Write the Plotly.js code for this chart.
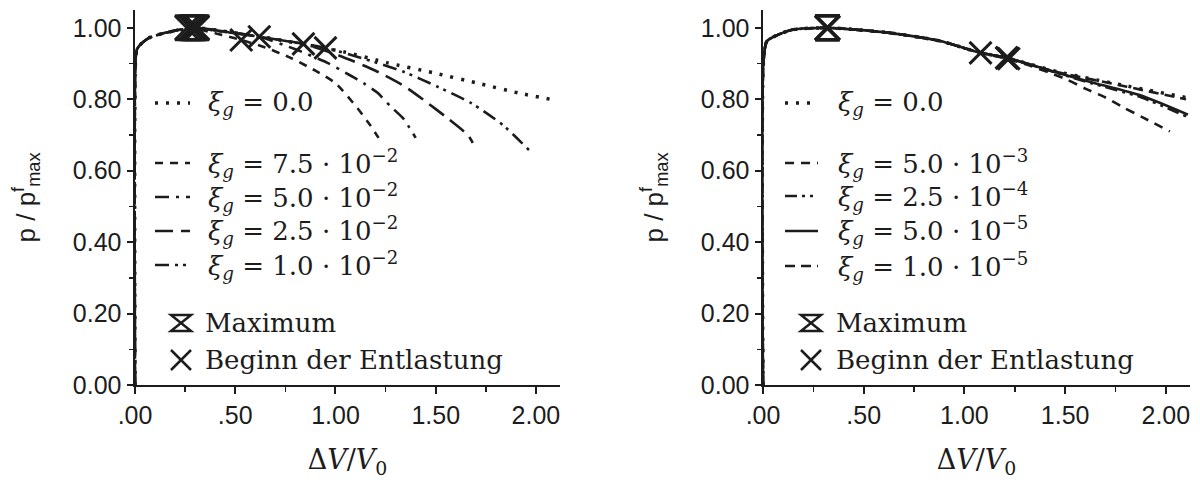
<!DOCTYPE html>
<html><head><meta charset="utf-8">
<script src="https://cdn.plot.ly/plotly-3.0.1.min.js"></script>
<style>html,body{margin:0;padding:0;background:#fff}#chart{width:1200px;height:486px}</style>
</head><body><div id="chart"></div>
<script>
// ---------------- DATA ----------------
// Left panel: xi_g = 0.0, 7.5e-2, 5.0e-2, 2.5e-2, 1.0e-2
const L_x_00 = [0, 0.002, 0.01, 0.03, 0.07, 0.15, 0.31, 0.45, 0.6, 0.8, 1.04, 1.26, 1.49, 1.725, 1.91, 2.09];
const L_y_00 = [0, 0.90, 0.94, 0.955, 0.972, 0.986, 1.0, 0.99, 0.978, 0.958, 0.933, 0.902, 0.874, 0.843, 0.818, 0.798];
const L_x_75 = [0, 0.002, 0.01, 0.03, 0.07, 0.15, 0.26, 0.4, 0.53, 0.65, 0.78, 0.9, 1.0, 1.11, 1.17, 1.215];
const L_y_75 = [0, 0.90, 0.94, 0.955, 0.972, 0.986, 1.0, 0.985, 0.966, 0.945, 0.915, 0.88, 0.845, 0.775, 0.73, 0.692];
const L_x_50 = [0, 0.002, 0.01, 0.03, 0.07, 0.15, 0.28, 0.45, 0.62, 0.8, 0.96, 1.07, 1.14, 1.21, 1.275, 1.34, 1.40];
const L_y_50 = [0, 0.90, 0.94, 0.955, 0.972, 0.986, 1.0, 0.988, 0.975, 0.94, 0.902, 0.868, 0.845, 0.818, 0.78, 0.745, 0.692];
const L_x_25 = [0, 0.002, 0.01, 0.03, 0.07, 0.15, 0.29, 0.5, 0.7, 0.84, 1.02, 1.2, 1.34, 1.44, 1.55, 1.66, 1.685];
const L_y_25 = [0, 0.90, 0.94, 0.955, 0.972, 0.986, 1.0, 0.985, 0.968, 0.955, 0.922, 0.88, 0.838, 0.798, 0.751, 0.70, 0.678];
const L_x_10 = [0, 0.002, 0.01, 0.03, 0.07, 0.15, 0.30, 0.5, 0.7, 0.95, 1.15, 1.34, 1.51, 1.675, 1.835, 1.965];
const L_y_10 = [0, 0.90, 0.94, 0.955, 0.972, 0.986, 1.0, 0.986, 0.968, 0.944, 0.912, 0.877, 0.835, 0.79, 0.728, 0.658];
const L_max_x = [0.31, 0.26, 0.28, 0.29, 0.30];
const L_max_y = [1.0, 1.0, 1.0, 1.0, 1.0];
const L_beg_x = [0.53, 0.62, 0.84, 0.95];
const L_beg_y = [0.966, 0.975, 0.955, 0.944];

// Right panel: xi_g = 0.0, 5.0e-3, 2.5e-4, 5.0e-5, 1.0e-5
const R_x_00  = [0, 0.002, 0.02, 0.14, 0.32, 0.63, 0.88, 1.08, 1.21, 1.47, 1.80, 2.10];
const R_y_00  = [0, 0.90, 0.963, 0.994, 1.0, 0.986, 0.963, 0.93, 0.916, 0.876, 0.838, 0.805];
const R_x_5e3 = [0, 0.002, 0.02, 0.14, 0.32, 0.63, 0.88, 1.08, 1.21, 1.32, 1.42, 1.51, 1.60, 1.70, 1.79, 1.89, 2.02];
const R_y_5e3 = [0, 0.90, 0.963, 0.994, 1.0, 0.986, 0.963, 0.93, 0.914, 0.895, 0.875, 0.855, 0.83, 0.805, 0.777, 0.748, 0.71];
const R_x_25e4 = [0, 0.002, 0.02, 0.14, 0.32, 0.63, 0.88, 1.08, 1.21, 1.47, 1.63, 1.88, 2.11];
const R_y_25e4 = [0, 0.90, 0.963, 0.994, 1.0, 0.986, 0.963, 0.93, 0.916, 0.872, 0.845, 0.805, 0.750];
const R_x_5e5 = [0, 0.002, 0.02, 0.14, 0.32, 0.63, 0.88, 1.08, 1.21, 1.47, 1.63, 1.88, 2.11];
const R_y_5e5 = [0, 0.90, 0.963, 0.994, 1.0, 0.986, 0.963, 0.93, 0.916, 0.873, 0.848, 0.810, 0.757];
const R_x_1e5 = [0, 0.002, 0.02, 0.14, 0.32, 0.63, 0.88, 1.08, 1.21, 1.47, 1.80, 2.10];
const R_y_1e5 = [0, 0.90, 0.963, 0.994, 1.0, 0.986, 0.963, 0.93, 0.916, 0.875, 0.836, 0.800];
const R_max_x = [0.32, 0.32, 0.32, 0.32, 0.32];
const R_max_y = [1.0, 1.0, 1.0, 1.0, 1.0];
const R_beg_x = [1.08, 1.21, 1.21, 1.22];
const R_beg_y = [0.93, 0.916, 0.916, 0.914];

// Labels
const L_labels = ['<i>ξ<sub>g</sub></i> = 0.0', '<i>ξ<sub>g</sub></i> = 7.5 · 10<sup>−2</sup>', '<i>ξ<sub>g</sub></i> = 5.0 · 10<sup>−2</sup>', '<i>ξ<sub>g</sub></i> = 2.5 · 10<sup>−2</sup>', '<i>ξ<sub>g</sub></i> = 1.0 · 10<sup>−2</sup>'];
const R_labels = ['<i>ξ<sub>g</sub></i> = 0.0', '<i>ξ<sub>g</sub></i> = 5.0 · 10<sup>−3</sup>', '<i>ξ<sub>g</sub></i> = 2.5 · 10<sup>−4</sup>', '<i>ξ<sub>g</sub></i> = 5.0 · 10<sup>−5</sup>', '<i>ξ<sub>g</sub></i> = 1.0 · 10<sup>−5</sup>'];
const markerLabels = ['Maximum', 'Beginn der Entlastung'];
const xTickVals = [0, 0.5, 1, 1.5, 2];
const xTickText = ['.00', '.50', '1.00', '1.50', '2.00'];
const yTickVals = [0, 0.2, 0.4, 0.6, 0.8, 1.0];
const yTickText = ['0.00', '0.20', '0.40', '0.60', '0.80', '1.00'];

// ---------------- STYLES ----------------
const INK = '#1c1c1c';
const L_dash = ['3px,8px', '8px,7px', '14px,7px,3px,7px', '18px,8px', '14px,6px,3px,5px,3px,6px'];
const R_dash = ['3px,8px', '9px,7px', '12px,5px,3px,5px,3px,5px', 'solid', '10px,6px'];
const L_sets = [[L_x_00, L_y_00], [L_x_75, L_y_75], [L_x_50, L_y_50], [L_x_25, L_y_25], [L_x_10, L_y_10]];
const R_sets = [[R_x_00, R_y_00], [R_x_5e3, R_y_5e3], [R_x_25e4, R_y_25e4], [R_x_5e5, R_y_5e5], [R_x_1e5, R_y_1e5]];

const traces = [];
function addCurves(sets, dashes, labels, xa, ya) {
  sets.forEach((s, i) => traces.push({
    x: s[0], y: s[1], xaxis: xa, yaxis: ya, type: 'scatter', mode: 'lines', name: labels[i],
    line: {color: INK, width: i === 0 ? 3.5 : 2.6, dash: dashes[i], shape: 'spline', smoothing: 0.6},
    showlegend: false, hoverinfo: 'skip'
  }));
}
addCurves(L_sets, L_dash, L_labels, 'x', 'y');
addCurves(R_sets, R_dash, R_labels, 'x2', 'y2');
function addMarkers(mx, my, bx, by, xa, ya) {
  traces.push({x: mx, y: my, xaxis: xa, yaxis: ya, type: 'scatter', mode: 'markers', name: markerLabels[0],
    marker: {symbol: 'hourglass-open', size: 24, color: INK, line: {width: 3, color: INK}}, showlegend: false, hoverinfo: 'skip'});
  traces.push({x: bx, y: by, xaxis: xa, yaxis: ya, type: 'scatter', mode: 'markers', name: markerLabels[1],
    marker: {symbol: 'x-thin-open', size: 22, color: INK, line: {width: 3, color: INK}}, showlegend: false, hoverinfo: 'skip'});
}
addMarkers(L_max_x, L_max_y, L_beg_x, L_beg_y, 'x', 'y');
addMarkers(R_max_x, R_max_y, R_beg_x, R_beg_y, 'x2', 'y2');

// ---------------- LAYOUT ----------------
const W = 1200, H = 486, ML = 135, MR = 10, MT = 10, MB = 101;
const PW = W - ML - MR, PH = H - MT - MB;
const px = v => (v - ML) / PW;
const py = v => (H - MB - v) / PH;

const tickFont = {family: 'Liberation Sans, Arial, sans-serif', size: 25, color: INK};
const serif = 'DejaVu Serif, serif';
function xAxis(domain, anchor) {
  return {domain: domain, anchor: anchor, range: [0, 2.12], showline: true, linewidth: 2, linecolor: INK,
    ticks: 'outside', ticklen: 7, tickwidth: 2, tickcolor: INK, tickvals: xTickVals, ticktext: xTickText,
    minor: {tickvals: [0.25, 0.75, 1.25, 1.75], ticks: 'outside', ticklen: 5, tickwidth: 1.5, tickcolor: INK},
    showgrid: false, zeroline: false, tickfont: tickFont, fixedrange: true,
    title: {text: 'Δ<i>V</i>/<i>V</i><sub>0</sub>', font: {family: serif, size: 27, color: INK}, standoff: 22}};
}
function yAxis(anchor) {
  return {domain: [0, 1], anchor: anchor, range: [0, 1.05], showline: true, linewidth: 2.5, linecolor: INK,
    ticks: 'outside', ticklen: 6, tickwidth: 2, tickcolor: INK, tickvals: yTickVals, ticktext: yTickText,
    minor: {tickvals: [0.1, 0.3, 0.5, 0.7, 0.9], ticks: 'outside', ticklen: 4, tickwidth: 1.5, tickcolor: INK},
    showgrid: false, zeroline: false, tickfont: tickFont, fixedrange: true,
    title: {text: 'p / p<sup>f</sup><sub>max</sub>', font: {family: 'Liberation Sans, Arial, sans-serif', size: 26, color: INK}, standoff: 30}};
}

const shapes = [], annotations = [];
function legend(rowsY, sampleX0, sampleX1, textX, labels, dashes, symX, symTextX, symRowsY) {
  rowsY.forEach((yy, i) => {
    shapes.push({type: 'line', xref: 'paper', yref: 'paper', x0: px(sampleX0), x1: px(sampleX1), y0: py(yy), y1: py(yy),
      line: {color: INK, width: i === 0 ? 3.5 : 2.6, dash: dashes[i]}});
    annotations.push({xref: 'paper', yref: 'paper', x: px(textX), y: py(yy), xanchor: 'left', yanchor: 'middle',
      text: labels[i], showarrow: false, font: {family: serif, size: 26, color: INK}});
  });
  // hourglass symbol
  shapes.push({type: 'path', xref: 'paper', yref: 'paper', xsizemode: 'pixel', ysizemode: 'pixel',
    xanchor: px(symX), yanchor: py(symRowsY[0]), path: 'M-10,-8H10L-10,8H10Z', line: {color: INK, width: 2.5}});
  // X symbol
  shapes.push({type: 'path', xref: 'paper', yref: 'paper', xsizemode: 'pixel', ysizemode: 'pixel',
    xanchor: px(symX), yanchor: py(symRowsY[1]), path: 'M-10,-10L10,10M-10,10L10,-10', line: {color: INK, width: 2.5}});
  markerLabels.forEach((t, i) => annotations.push({xref: 'paper', yref: 'paper', x: px(symTextX), y: py(symRowsY[i]),
    xanchor: 'left', yanchor: 'middle', text: t, showarrow: false, font: {family: serif, size: 26, color: INK}}));
}
legend([103, 163, 197, 231, 265], 155, 190, 206, L_labels, L_dash, 181, 203, [323, 360]);
legend([103, 163, 196, 231, 266], 785, 818, 836, R_labels, R_dash, 811, 834, [323, 360]);

const layout = {
  width: W, height: H, margin: {l: ML, r: MR, t: MT, b: MB}, paper_bgcolor: '#fff', plot_bgcolor: '#fff',
  showlegend: false,
  xaxis: xAxis([0, 425 / PW], 'y'), yaxis: yAxis('x'),
  xaxis2: xAxis([628 / PW, 1], 'y2'), yaxis2: yAxis('x2'),
  shapes: shapes, annotations: annotations
};
Plotly.newPlot('chart', traces, layout, {staticPlot: true, displayModeBar: false});
</script></body></html>
